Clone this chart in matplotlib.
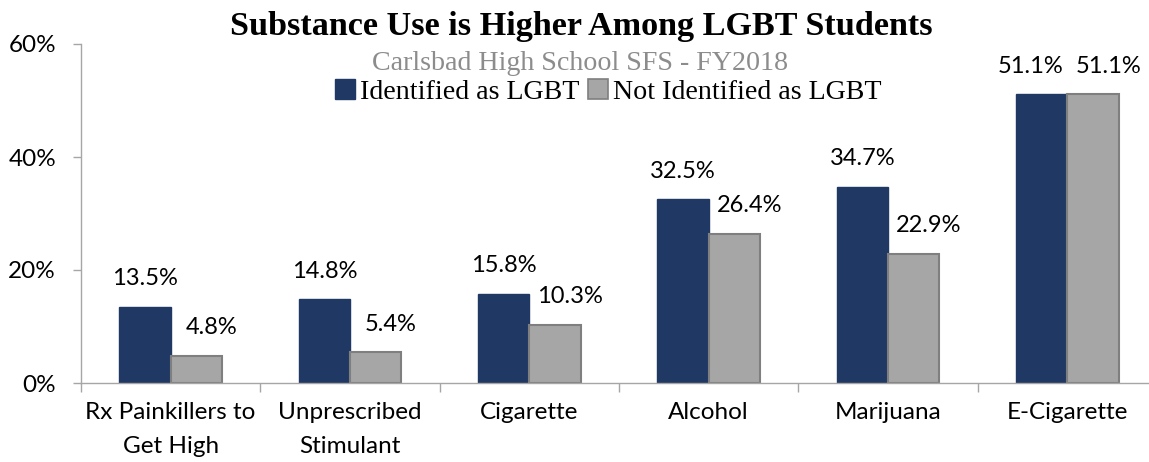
import matplotlib
matplotlib.use("Agg")
import matplotlib.pyplot as plt
from matplotlib.patches import Patch
import numpy as np

categories = ["Rx Painkillers to\nGet High", "Unprescribed\nStimulant", "Cigarette",
              "Alcohol", "Marijuana", "E-Cigarette"]
lgbt = [13.5, 14.8, 15.8, 32.5, 34.7, 51.1]
not_lgbt = [4.8, 5.4, 10.3, 26.4, 22.9, 51.1]
y_ticks = [0, 20, 40, 60]

NAVY = "#203864"
GRAY = "#A6A6A6"
GRAY_EDGE = "#7F7F7F"
AXIS = "#A6A6A6"
SANS = ["Lato", "DejaVu Sans"]
SERIF = ["Liberation Serif", "DejaVu Serif"]

W, H = 1149, 462
fig = plt.figure(figsize=(W / 100, H / 100), dpi=100)
ax = fig.add_axes([81 / W, 1 - 383 / H, (1157 - 81) / W, (383 - 44) / H])

x = np.arange(len(categories))
bw = 0.287
ax.bar(x - bw / 2, lgbt, bw, color=NAVY, edgecolor=NAVY, linewidth=1, zorder=2)
ax.bar(x + bw / 2, not_lgbt, bw, color=GRAY, edgecolor=GRAY_EDGE, linewidth=1.5, zorder=2)

# value labels above bars (grey ones sit a little to the right)
for i in range(len(categories)):
    dx_l = -11 if i == len(categories) - 1 else 0
    ax.annotate(f"{lgbt[i]:.1f}%", (x[i] - bw / 2, lgbt[i]), xytext=(dx_l, 28),
                textcoords="offset pixels", ha="center", va="center",
                fontsize=17, family=SANS, color="black")
    ax.annotate(f"{not_lgbt[i]:.1f}%", (x[i] + bw / 2, not_lgbt[i]), xytext=(15, 28),
                textcoords="offset pixels", ha="center", va="center",
                fontsize=17, family=SANS, color="black")

ax.set_xlim(-0.5, len(categories) - 0.5)
ax.set_ylim(0, 60)
ax.set_yticks(y_ticks)
ax.set_yticklabels([f"{t}%" for t in y_ticks], family=SANS, fontsize=17.5)
ax.set_xticks(x)
ax.set_xticklabels(categories, family=SANS, fontsize=17.5, linespacing=1.75)
ax.set_xticks(np.arange(-0.5, len(categories)), minor=True)

ax.tick_params(axis="x", which="major", length=0, pad=14)
ax.tick_params(axis="x", which="minor", length=6.5, width=1, color=AXIS, direction="out")
ax.tick_params(axis="y", length=6, width=1, color=AXIS, direction="out", pad=12)

for s in ["top", "right"]:
    ax.spines[s].set_visible(False)
for s in ["left", "bottom"]:
    ax.spines[s].set_color(AXIS)
    ax.spines[s].set_linewidth(1)

fig.text(0.5 * (228 + 935) / W, 1 - 27 / H, "Substance Use is Higher Among LGBT Students",
         ha="center", va="center", fontsize=24.6, fontweight="bold", family=SERIF)
fig.text(0.5 * (373 + 788) / W, 1 - 63 / H, "Carlsbad High School SFS - FY2018",
         ha="center", va="center", fontsize=20.2, family=SERIF, color="#8C8C8C")

handles = [Patch(facecolor=NAVY, edgecolor=NAVY, label="Identified as LGBT"),
           Patch(facecolor=GRAY, edgecolor=GRAY_EDGE, linewidth=1.2, label="Not Identified as LGBT")]
fig.legend(handles=handles, loc="center", bbox_to_anchor=(0.5 * (330 + 887) / W, 1 - 92 / H),
           ncol=2, frameon=False, prop={"family": SERIF, "size": 20.2},
           handlelength=0.7, handleheight=0.7, handletextpad=0.2, columnspacing=0.3,
           borderpad=0, borderaxespad=0)

fig.savefig("out.png", dpi=100)
